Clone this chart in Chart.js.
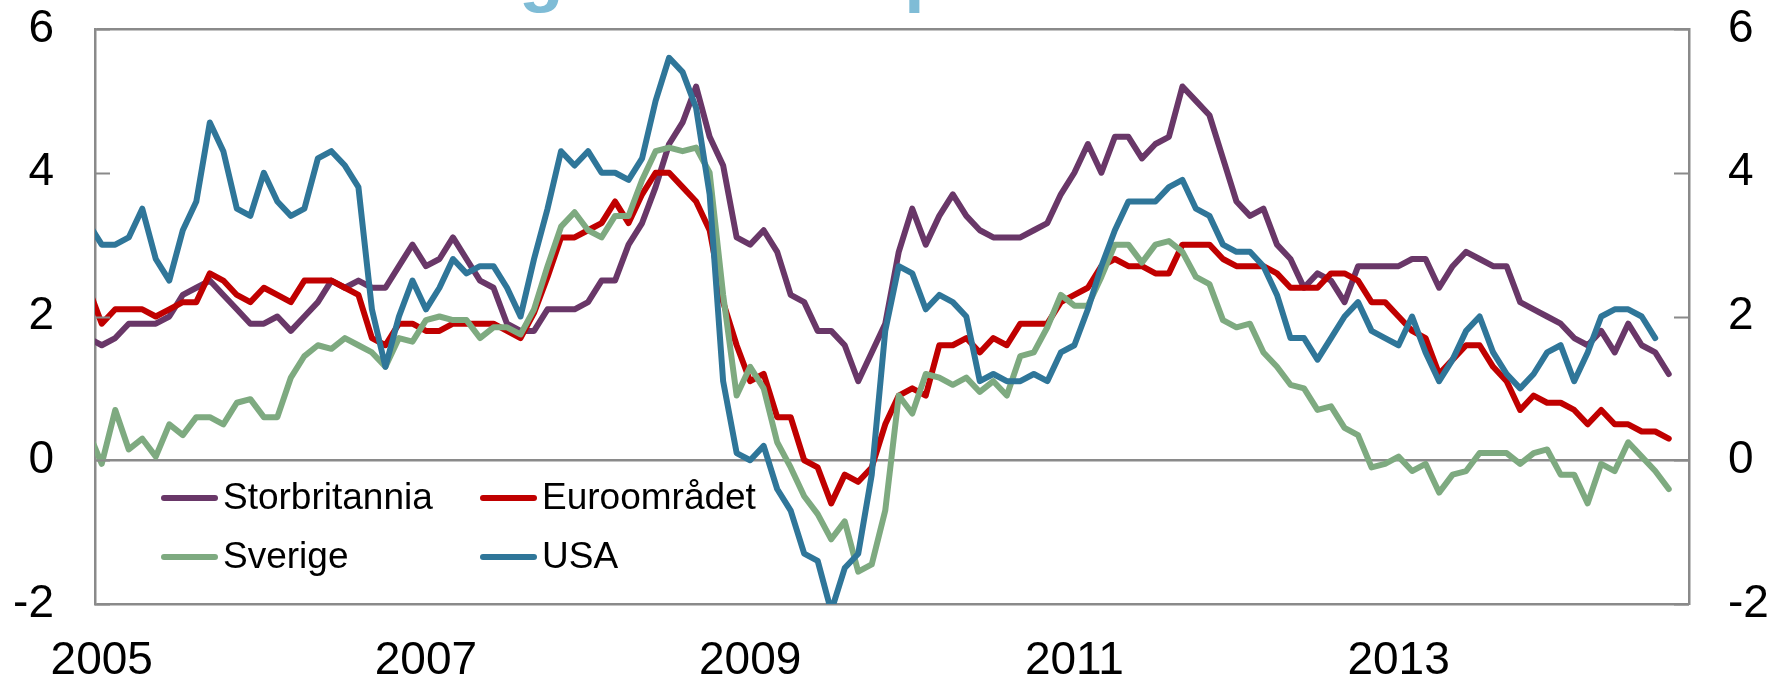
<!DOCTYPE html>
<html>
<head>
<meta charset="utf-8">
<script src="https://cdn.jsdelivr.net/npm/chart.js@4.4.1/dist/chart.umd.min.js"></script>
<style>
  html, body { margin: 0; padding: 0; background: #ffffff; overflow: hidden; }
  #wrap { width: 1775px; height: 679px; position: relative; }
</style>
</head>
<body>
<div id="wrap"><canvas id="c" width="1775" height="679"></canvas></div>
<script>
// ---------------- DATA ----------------
// Monthly, twelve-month change in consumer prices, percent.
// First value is Dec 2004 (just left of the plot edge), then Jan 2005 ...
const firstYear = 2004, firstMonth = 12;        // Dec 2004
const lastAxisMonthCount = 118;                  // axis spans Jan 2005 .. Oct 2014

const storbritannia = [1.7,
  1.6,1.7,1.9,1.9,1.9,2.0,2.3,2.4,2.5,2.3,2.1,1.9,
  1.9,2.0,1.8,2.0,2.2,2.5,2.4,2.5,2.4,2.4,2.7,3.0,
  2.7,2.8,3.1,2.8,2.5,2.4,1.9,1.8,1.8,2.1,2.1,2.1,
  2.2,2.5,2.5,3.0,3.3,3.8,4.4,4.7,5.2,4.5,4.1,3.1,
  3.0,3.2,2.9,2.3,2.2,1.8,1.8,1.6,1.1,1.5,1.9,2.9,
  3.5,3.0,3.4,3.7,3.4,3.2,3.1,3.1,3.1,3.2,3.3,3.7,
  4.0,4.4,4.0,4.5,4.5,4.2,4.4,4.5,5.2,5.0,4.8,4.2,
  3.6,3.4,3.5,3.0,2.8,2.4,2.6,2.5,2.2,2.7,2.7,2.7,
  2.7,2.8,2.8,2.4,2.7,2.9,2.8,2.7,2.7,2.2,2.1,2.0,
  1.9,1.7,1.6,1.8,1.5,1.9,1.6,1.5,1.2];

const euroomradet = [2.4,
  1.9,2.1,2.1,2.1,2.0,2.1,2.2,2.2,2.6,2.5,2.3,2.2,
  2.4,2.3,2.2,2.5,2.5,2.5,2.4,2.3,1.7,1.6,1.9,1.9,
  1.8,1.8,1.9,1.9,1.9,1.9,1.8,1.7,2.05,2.55,3.1,3.1,
  3.2,3.3,3.6,3.3,3.7,4.0,4.0,3.8,3.6,3.2,2.2,1.6,
  1.1,1.2,0.6,0.6,0.0,-0.1,-0.6,-0.2,-0.3,-0.1,0.5,0.9,
  1.0,0.9,1.6,1.6,1.7,1.5,1.7,1.6,1.9,1.9,1.9,2.2,
  2.3,2.4,2.7,2.8,2.7,2.7,2.6,2.6,3.0,3.0,3.0,2.8,
  2.7,2.7,2.7,2.6,2.4,2.4,2.4,2.6,2.6,2.5,2.2,2.2,
  2.0,1.8,1.7,1.2,1.4,1.6,1.6,1.3,1.1,0.7,0.9,0.8,
  0.8,0.7,0.5,0.7,0.5,0.5,0.4,0.4,0.3];

const sverige = [0.4,
  -0.05,0.7,0.15,0.3,0.05,0.5,0.35,0.6,0.6,0.5,0.8,0.85,
  0.6,0.6,1.15,1.45,1.6,1.55,1.7,1.6,1.5,1.3,1.7,1.65,
  1.95,2.0,1.95,1.95,1.7,1.85,1.85,1.75,2.1,2.7,3.25,3.45,
  3.2,3.1,3.4,3.4,3.9,4.3,4.35,4.3,4.35,4.0,2.3,0.9,
  1.3,1.0,0.25,-0.1,-0.5,-0.75,-1.1,-0.85,-1.55,-1.45,-0.7,0.9,
  0.65,1.2,1.15,1.05,1.15,0.95,1.1,0.9,1.45,1.5,1.85,2.3,
  2.15,2.15,2.55,3.0,3.0,2.75,3.0,3.05,2.9,2.55,2.45,1.95,
  1.85,1.9,1.5,1.3,1.05,1.0,0.7,0.75,0.45,0.35,-0.1,-0.05,
  0.05,-0.15,-0.05,-0.45,-0.2,-0.15,0.1,0.1,0.1,-0.05,0.1,0.15,
  -0.2,-0.2,-0.6,-0.05,-0.15,0.25,0.05,-0.15,-0.4];

const usa = [3.3,
  3.0,3.0,3.1,3.5,2.8,2.5,3.2,3.6,4.7,4.3,3.5,3.4,
  4.0,3.6,3.4,3.5,4.2,4.3,4.1,3.8,2.1,1.3,2.0,2.5,
  2.1,2.4,2.8,2.6,2.7,2.7,2.4,2.0,2.8,3.5,4.3,4.1,
  4.3,4.0,4.0,3.9,4.2,5.0,5.6,5.4,4.9,3.7,1.1,0.1,
  0.0,0.2,-0.4,-0.7,-1.3,-1.4,-2.1,-1.5,-1.3,-0.2,1.8,2.7,
  2.6,2.1,2.3,2.2,2.0,1.1,1.2,1.1,1.1,1.2,1.1,1.5,
  1.6,2.1,2.7,3.2,3.6,3.6,3.6,3.8,3.9,3.5,3.4,3.0,
  2.9,2.9,2.7,2.3,1.7,1.7,1.4,1.7,2.0,2.2,1.8,1.7,
  1.6,2.0,1.5,1.1,1.4,1.8,2.0,1.5,1.2,1.0,1.2,1.5,
  1.6,1.1,1.5,2.0,2.1,2.1,2.0,1.7];

const yearLabels = ['2005', '2007', '2009', '2011', '2013'];
const yTicks = [-2, 0, 2, 4, 6];
const titleText = 'Utvikling i konsumprisene';

// month categories: Dec 2004 ... Oct 2014
const months = [];
for (let k = 0; k <= lastAxisMonthCount; k++) {
  const m0 = (firstMonth - 1 + k);
  const y = firstYear + Math.floor(m0 / 12);
  const m = (m0 % 12) + 1;
  months.push(y + '-' + String(m).padStart(2, '0'));
}
// position of a month on the axis: 0 = Jan 2005
const monthPos = months.map((_, k) => k - 1);
const yearTickPos = yearLabels.map(y => months.indexOf(y + '-01') - 1);

// ---------------- STYLE ----------------
const FONT = '"Liberation Sans", Arial, Helvetica, sans-serif';
const GRAY = '#8a8a8a';
const CLEAR = 'rgba(0,0,0,0)';
const series = [
  { label: 'Storbritannia', data: storbritannia, color: '#693768', order: 4 },
  { label: 'Euroområdet',   data: euroomradet,   color: '#c00000', order: 3 },
  { label: 'Sverige',       data: sverige,       color: '#7eaa80', order: 2 },
  { label: 'USA',           data: usa,           color: '#2f7699', order: 1 }
];

const datasets = series.map(s => ({
  label: s.label,
  data: s.data.map((v, i) => ({ x: monthPos[i], y: v })),
  borderColor: s.color,
  backgroundColor: s.color,
  borderWidth: 6,
  pointRadius: 0,
  pointHoverRadius: 0,
  tension: 0,
  fill: false,
  borderJoinStyle: 'round',
  borderCapStyle: 'round',
  clip: 0,
  order: s.order
}));

// inward tick marks on both y axes
const innerTicks = {
  id: 'innerTicks',
  afterDatasetsDraw(chart) {
    const { ctx, chartArea } = chart;
    const ys = chart.scales.y;
    ctx.save();
    ctx.strokeStyle = GRAY;
    ctx.lineWidth = 2;
    yTicks.forEach(v => {
      const py = Math.round(ys.getPixelForValue(v)) + 0.5;
      ctx.beginPath();
      ctx.moveTo(chartArea.left, py); ctx.lineTo(chartArea.left + 15, py);
      ctx.moveTo(chartArea.right - 15, py); ctx.lineTo(chartArea.right, py);
      ctx.stroke();
    });
    ctx.restore();
  }
};

// legend inside plot area, two columns
const innerLegend = {
  id: 'innerLegend',
  afterDraw(chart) {
    const { ctx } = chart;
    const colX = [162, 481];
    const rowY = [498, 557];
    ctx.save();
    ctx.font = '37px ' + FONT;
    ctx.textBaseline = 'middle';
    ctx.textAlign = 'left';
    chart.data.datasets.forEach((ds, i) => {
      const x = colX[i % 2], y = rowY[Math.floor(i / 2)];
      ctx.strokeStyle = ds.borderColor;
      ctx.lineWidth = 6;
      ctx.lineCap = 'round';
      ctx.beginPath();
      ctx.moveTo(x + 2, y); ctx.lineTo(x + 53, y);
      ctx.stroke();
      ctx.fillStyle = '#000000';
      ctx.fillText(ds.label, x + 61, y + 1);
    });
    ctx.restore();
  }
};

// title, mostly above the visible picture (only descenders show)
const cutTitle = {
  id: 'cutTitle',
  afterDraw(chart) {
    const { ctx } = chart;
    ctx.save();
    ctx.font = 'bold 100px ' + FONT;
    const a = ctx.measureText('Utviklin').width + ctx.measureText('g').width / 2;
    const b = ctx.measureText('Utvikling i konsum').width + 14;
    const size = 100 * (914 - 541) / (b - a);
    const x0 = 541 - a * size / 100;
    ctx.font = 'bold ' + size.toFixed(1) + 'px ' + FONT;
    ctx.fillStyle = '#7fbcd6';
    ctx.textBaseline = 'alphabetic';
    ctx.textAlign = 'left';
    ctx.fillText(titleText, x0, 13 - 0.21 * size);
    ctx.restore();
  }
};

const tickFont = { family: FONT, size: 46 };

new Chart(document.getElementById('c'), {
  type: 'line',
  data: { datasets },
  plugins: [innerTicks, innerLegend, cutTitle],
  options: {
    responsive: false,
    animation: false,
    devicePixelRatio: 1,
    layout: { padding: { top: 29, left: 0, right: 0, bottom: 0 } },
    plugins: { legend: { display: false }, tooltip: { enabled: false }, title: { display: false } },
    scales: {
      x: {
        type: 'linear',
        position: 'bottom',
        min: -0.5,
        max: lastAxisMonthCount - 0.5,
        grid: { display: true, drawOnChartArea: false, drawTicks: true, tickLength: 30, tickColor: CLEAR, color: CLEAR },
        border: { display: false },
        afterBuildTicks: s => { s.ticks = yearTickPos.map(v => ({ value: v })); },
        afterFit: s => { s.height = 75; },
        ticks: {
          autoSkip: false, maxRotation: 0, minRotation: 0,
          padding: 0, color: '#000000', font: tickFont,
          callback: v => { const i = yearTickPos.indexOf(v); return i >= 0 ? yearLabels[i] : ''; }
        }
      },
      y: {
        position: 'left',
        min: -2, max: 6,
        afterBuildTicks: s => { s.ticks = yTicks.map(v => ({ value: v })); },
        afterFit: s => { s.width = 95; },
        grid: {
          drawTicks: true,
          tickLength: 41,
          tickColor: CLEAR,
          lineWidth: 2.5,
          color: c => (c.tick && (c.tick.value === 0 || c.tick.value === 6 || c.tick.value === -2)) ? GRAY : CLEAR
        },
        border: { display: true, color: GRAY, width: 2.5 },
        ticks: { padding: 0, color: '#000000', font: tickFont }
      },
      y2: {
        position: 'right',
        min: -2, max: 6,
        afterBuildTicks: s => { s.ticks = yTicks.map(v => ({ value: v })); },
        afterFit: s => { s.width = 86; },
        grid: { drawOnChartArea: false, drawTicks: true, tickLength: 39, tickColor: CLEAR, color: CLEAR },
        border: { display: true, color: GRAY, width: 2.5 },
        ticks: { padding: 0, color: '#000000', font: tickFont }
      }
    }
  }
});
</script>
</body>
</html>
